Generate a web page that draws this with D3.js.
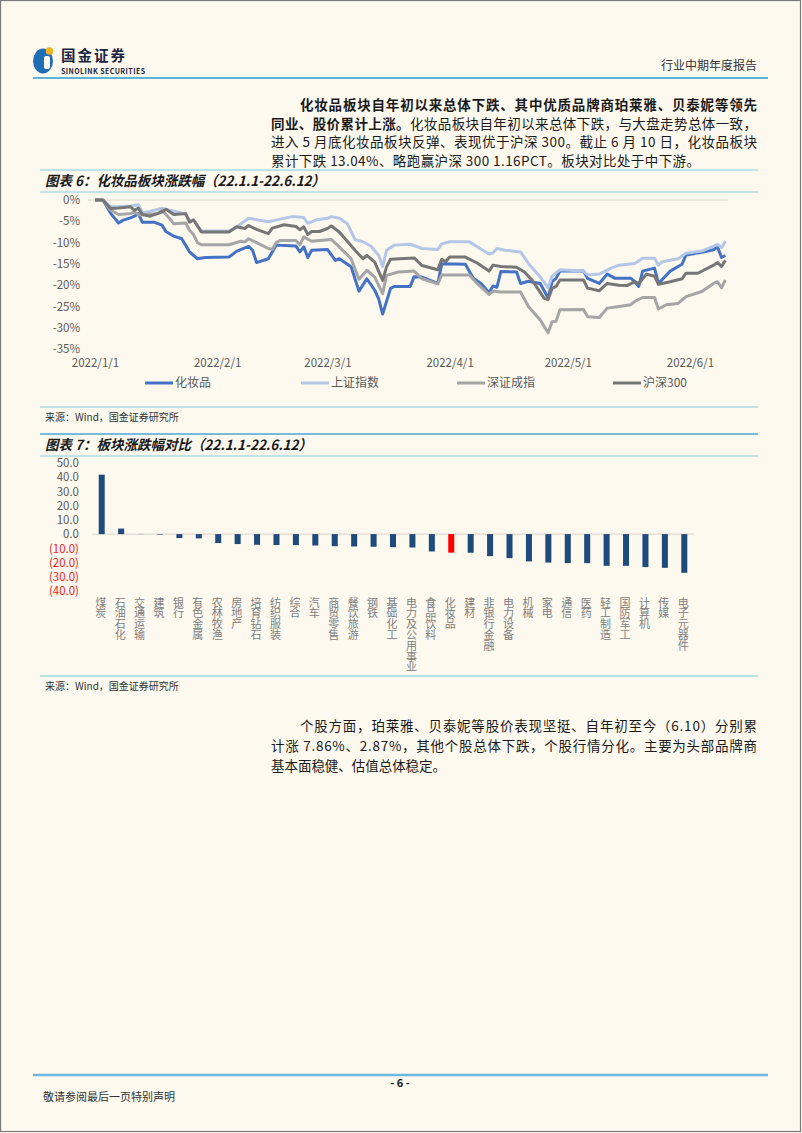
<!DOCTYPE html>
<html><head><meta charset="utf-8">
<script src="https://cdn.jsdelivr.net/npm/d3@7"></script>
<style>
body{margin:0;background:#fdf9ef;}
svg text{font-family:"Noto Sans CJK SC","Noto Sans",sans-serif;}
.vlab{writing-mode:vertical-rl;text-orientation:upright;}
</style>
</head><body>
<svg id="page" width="802" height="1133"></svg>
<script>
// ---------- DATA ----------
const seriesNames = ["化妆品","上证指数","深证成指","沪深300"];
const seriesColors = ["#4472c4","#b4c7e7","#a5a5a5","#767676"];
const dateTicks = ["2022-01-01","2022-02-01","2022-03-01","2022-04-01","2022-05-01","2022-06-01"];
const pctTicks = [0,-5,-10,-15,-20,-25,-30,-35];

const cosmetics = [["01-01",0],["01-03",0],["01-04",-1.6],["01-05",-3.2],["01-07",-5.4],["01-08",-4.8],["01-10",-4.2],["01-11",-3.8],["01-12",-3.2],["01-13",-5.2],["01-16",-5.2],["01-18",-5.9],["01-19",-7.4],["01-21",-8.5],["01-23",-9.1],["01-24",-10.6],["01-25",-12.2],["01-27",-13.8],["01-29",-13.5],["02-04",-13.4],["02-06",-12.0],["02-09",-10.9],["02-10",-11.8],["02-11",-14.7],["02-14",-13.8],["02-16",-10.6],["02-21",-10.8],["02-22",-12.2],["02-23",-11.0],["02-24",-13.5],["02-25",-11.8],["03-01",-11.6],["03-03",-14.2],["03-04",-13.8],["03-07",-15.7],["03-09",-21.4],["03-11",-18.5],["03-13",-21.2],["03-14",-23.2],["03-15",-26.8],["03-17",-20.8],["03-18",-20.3],["03-22",-20.3],["03-23",-18.0],["03-25",-18.1],["03-29",-19.6],["03-30",-15.0],["04-05",-15.1],["04-07",-18.4],["04-09",-19.6],["04-11",-21.8],["04-12",-20.2],["04-13",-20.5],["04-14",-16.8],["04-18",-16.9],["04-19",-19.6],["04-21",-19.1],["04-24",-19.6],["04-26",-23.0],["04-27",-19.2],["04-28",-18.4],["04-29",-16.7],["05-05",-16.7],["05-06",-18.4],["05-09",-19.6],["05-11",-17.4],["05-13",-18.4],["05-17",-18.4],["05-18",-19.2],["05-19",-20.3],["05-20",-16.7],["05-23",-16.0],["05-24",-19.6],["05-27",-16.7],["05-30",-15.1],["05-31",-12.9],["06-04",-12.3],["06-07",-11.7],["06-08",-11.0],["06-09",-13.5],["06-10",-13.04]];

const shIndex = [["01-01",0],["01-03",0],["01-05",-1.6],["01-08",-1.5],["01-10",-1.4],["01-12",-1.1],["01-13",-3.0],["01-15",-2.7],["01-18",-1.9],["01-20",-2.4],["01-24",-3.3],["01-25",-5.0],["01-26",-4.6],["01-28",-7.3],["02-04",-7.3],["02-06",-6.3],["02-09",-4.3],["02-14",-5.1],["02-17",-4.5],["02-20",-3.9],["02-23",-4.1],["02-24",-5.5],["02-26",-4.7],["03-01",-4.3],["03-02",-3.9],["03-04",-4.3],["03-06",-5.5],["03-07",-7.4],["03-08",-9.3],["03-10",-9.8],["03-12",-10.8],["03-14",-13.0],["03-15",-15.6],["03-16",-11.8],["03-18",-10.6],["03-22",-10.4],["03-25",-11.4],["03-29",-11.6],["03-30",-10.3],["04-01",-9.8],["04-06",-9.8],["04-08",-11.0],["04-11",-12.7],["04-12",-12.4],["04-13",-11.4],["04-15",-11.8],["04-19",-12.2],["04-21",-14.9],["04-24",-18.1],["04-26",-20.6],["04-27",-17.9],["04-29",-16.4],["05-05",-16.7],["05-06",-17.6],["05-09",-17.4],["05-12",-16.0],["05-14",-15.3],["05-18",-14.9],["05-20",-13.7],["05-23",-13.7],["05-24",-15.3],["05-25",-14.5],["05-29",-13.8],["05-31",-12.5],["06-04",-12.0],["06-08",-10.4],["06-09",-11.2],["06-10",-9.7]];

const szIndex = [["01-01",0],["01-03",0],["01-05",-2.4],["01-07",-3.4],["01-10",-3.2],["01-11",-2.8],["01-12",-3.5],["01-14",-3.4],["01-17",-3.2],["01-18",-2.4],["01-20",-4.4],["01-21",-5.6],["01-24",-5.4],["01-25",-7.1],["01-26",-8.1],["01-27",-10.0],["01-28",-10.5],["02-04",-10.5],["02-07",-9.7],["02-08",-9.9],["02-09",-9.1],["02-11",-10.0],["02-14",-11.4],["02-15",-11.6],["02-16",-10.0],["02-17",-9.5],["02-21",-9.5],["02-22",-10.5],["02-23",-8.7],["02-25",-9.7],["02-27",-9.5],["03-02",-9.3],["03-04",-11.0],["03-07",-13.8],["03-09",-18.6],["03-11",-16.5],["03-13",-18.1],["03-15",-22.0],["03-16",-17.7],["03-19",-16.9],["03-23",-16.7],["03-25",-18.5],["03-29",-19.7],["03-30",-17.6],["04-01",-17.6],["04-06",-17.6],["04-08",-19.6],["04-11",-22.2],["04-12",-21.4],["04-14",-21.6],["04-19",-21.6],["04-21",-25.0],["04-24",-28.2],["04-26",-31.2],["04-27",-28.6],["04-28",-28.5],["04-29",-25.8],["05-05",-25.7],["05-06",-27.4],["05-09",-27.6],["05-11",-25.4],["05-14",-25.0],["05-17",-24.6],["05-18",-23.8],["05-20",-22.9],["05-23",-22.9],["05-24",-25.6],["05-26",-24.6],["05-29",-24.3],["05-31",-22.7],["06-04",-21.5],["06-07",-19.6],["06-08",-19.2],["06-09",-20.6],["06-10",-18.8]];

const hs300 = [["01-01",0],["01-03",0],["01-05",-2.0],["01-07",-1.9],["01-10",-1.6],["01-11",-2.4],["01-12",-1.9],["01-13",-3.4],["01-15",-3.8],["01-18",-2.8],["01-19",-2.2],["01-21",-3.4],["01-24",-3.2],["01-25",-5.2],["01-26",-4.7],["01-28",-7.5],["02-04",-7.5],["02-06",-6.3],["02-08",-6.7],["02-09",-6.0],["02-11",-6.9],["02-14",-7.9],["02-15",-6.6],["02-18",-5.8],["02-21",-6.2],["02-22",-7.0],["02-23",-6.3],["02-24",-8.1],["02-25",-7.4],["02-27",-7.4],["03-01",-6.7],["03-02",-6.1],["03-04",-7.5],["03-08",-11.8],["03-10",-13.8],["03-11",-13.0],["03-13",-14.6],["03-15",-18.9],["03-16",-15.7],["03-17",-13.9],["03-23",-13.6],["03-25",-15.4],["03-29",-16.4],["03-30",-13.9],["03-31",-14.5],["04-01",-13.4],["04-05",-13.4],["04-08",-14.8],["04-11",-16.7],["04-12",-15.3],["04-14",-15.6],["04-18",-15.8],["04-20",-16.9],["04-22",-18.9],["04-25",-23.1],["04-26",-23.4],["04-27",-20.8],["04-28",-20.3],["04-29",-18.8],["05-05",-18.8],["05-06",-20.7],["05-09",-21.3],["05-11",-19.6],["05-14",-20.0],["05-16",-20.1],["05-18",-19.2],["05-19",-19.6],["05-21",-17.4],["05-23",-17.9],["05-24",-19.8],["05-27",-19.2],["05-30",-18.5],["05-31",-17.2],["06-03",-17.2],["06-07",-15.3],["06-08",-14.7],["06-09",-15.6],["06-10",-14.2]];

const sectors = ["煤炭","石油石化","交通运输","建筑","银行","有色金属","农林牧渔","房地产","培育钻石","纺织服装","综合","汽车","商贸零售","餐饮旅游","钢铁","基础化工","电力及公用事业","食品饮料","化妆品","建材","非银行金融","电力设备","机械","家电","通信","医药","轻工制造","国防军工","计算机","传媒","电子元器件"];
const sectorChange = [41.8,3.9,0.1,-0.4,-2.8,-3.0,-6.3,-7.0,-7.5,-7.7,-7.7,-8.0,-8.5,-8.7,-8.9,-9.2,-9.4,-12.2,-13.04,-13.1,-15.5,-16.9,-19.2,-20.0,-20.4,-20.4,-22.3,-22.3,-23.2,-23.7,-27.2];
const barTicks = [50,40,30,20,10,0,-10,-20,-30,-40];
const highlightSector = "化妆品";

// ---------- PAGE ----------
const svg = d3.select("#page");
svg.append("rect").attr("x",0).attr("y",0).attr("width",802).attr("height",1133).attr("fill","#fdf9ef");
svg.append("rect").attr("x",0.5).attr("y",0.5).attr("width",800).attr("height",1131).attr("fill","none").attr("stroke","#7a7a7a").attr("stroke-width",1.2);

// header logo
const logo = svg.append("g");
logo.append("ellipse").attr("cx",43).attr("cy",61).attr("rx",10).attr("ry",12.5).attr("fill","#1f6db5");
logo.append("rect").attr("x",44).attr("y",56).attr("width",6).attr("height",13).attr("rx",2).attr("fill","#fdf9ef");
logo.append("circle").attr("cx",49.5).attr("cy",51).attr("r",3.8).attr("fill","#f2b21f");
logo.append("text").attr("x",61).attr("y",61).attr("font-size",14.5).attr("font-weight",700).attr("fill","#1b2440").attr("textLength",64).attr("lengthAdjust","spacing").text("国金证券");
logo.append("text").attr("x",61).attr("y",74).attr("font-size",7).attr("font-weight",700).attr("fill","#1b2440").attr("textLength",84).text("SINOLINK SECURITIES");
svg.append("text").attr("x",757).attr("y",70).attr("text-anchor","end").attr("font-size",12).attr("fill","#333").text("行业中期年度报告");
svg.append("line").attr("x1",33).attr("x2",768).attr("y1",78).attr("y2",78).attr("stroke","#5cb3dc").attr("stroke-width",2);

// paragraph helper
function para(lines){
  lines.forEach(l=>{
    const t = svg.append("text").attr("x",l.x).attr("y",l.y).attr("font-size",13.5).attr("fill","#1a1a1a")
      .attr("textLength",l.w).attr("lengthAdjust","spacing");
    l.parts.forEach(p=>t.append("tspan").attr("font-weight",p[1]?700:400).text(p[0]));
  });
}
para([
  {x:300,y:110,w:457,parts:[["化妆品板块自年初以来总体下跌、其中优质品牌商珀莱雅、贝泰妮等领先",1]]},
  {x:271,y:128.5,w:486,parts:[["同业、股价累计上涨。",1],["化妆品板块自年初以来总体下跌，与大盘走势总体一致，",0]]},
  {x:271,y:147,w:486,parts:[["进入 5 月底化妆品板块反弹、表现优于沪深 300。截止 6 月 10 日，化妆品板块",0]]},
  {x:271,y:165.5,w:429,parts:[["累计下跌 13.04%、略跑赢沪深 300 1.16PCT。板块对比处于中下游。",0]]}
]);

// chart title helper
function titleBar(yTop,yBot,yText,label,w,thickTop){
  svg.append("line").attr("x1",40).attr("x2",758).attr("y1",yTop).attr("y2",yTop).attr("stroke",thickTop?"#4aa7d9":"#86cbe0").attr("stroke-width",thickTop?1.6:1);
  svg.append("line").attr("x1",40).attr("x2",758).attr("y1",yBot).attr("y2",yBot).attr("stroke","#86cbe0").attr("stroke-width",1);
  svg.append("text").attr("x",45).attr("y",yText).attr("font-size",14).attr("font-weight",700).attr("font-style","italic")
    .attr("fill","#1a1a1a").attr("textLength",w).attr("lengthAdjust","spacingAndGlyphs").text(label);
}
titleBar(170,192,186,"图表 6：化妆品板块涨跌幅（22.1.1-22.6.12）",280,false);

// ---------- CHART 6 ----------
const parse = d3.timeParse("%Y-%m-%d");
const xT = d3.scaleTime().domain([parse("2022-01-01"),parse("2022-06-12")]).range([95,733.3]);
const yP = d3.scaleLinear().domain([0,-35]).range([200,349]);

svg.append("line").attr("x1",88).attr("x2",728).attr("y1",yP(0)).attr("y2",yP(0)).attr("stroke","#dcd8cf").attr("stroke-width",1);

const gy = svg.append("g").attr("transform","translate(80,0)")
  .call(d3.axisLeft(yP).tickValues(pctTicks).tickSize(0).tickPadding(0).tickFormat(d=>d+"%"));
gy.select(".domain").remove();
gy.selectAll("text").attr("font-size",11.5).attr("fill","#595959").attr("font-family","'Noto Sans','Open Sans',sans-serif");

const gx = svg.append("g").attr("transform","translate(0,359)")
  .call(d3.axisBottom(xT).tickValues(dateTicks.map(parse)).tickSize(0).tickPadding(0).tickFormat(d3.timeFormat("%Y/%-m/%-d")));
gx.select(".domain").remove();
gx.selectAll("text").attr("font-size",11.5).attr("fill","#595959").attr("font-family","'Noto Sans','Open Sans',sans-serif");

const allSeries = [cosmetics, shIndex, szIndex, hs300];
const line = d3.line().x(d=>xT(parse("2022-"+d[0]))).y(d=>yP(d[1]));
allSeries.forEach((s,i)=>{
  svg.append("path").datum(s).attr("d",line).attr("fill","none").attr("stroke",seriesColors[i])
    .attr("stroke-width",3).attr("stroke-linejoin","round");
});

// legend
const lg = svg.append("g");
seriesNames.forEach((n,i)=>{
  const lx = 145 + i*156;
  lg.append("line").attr("x1",lx).attr("x2",lx+28).attr("y1",383).attr("y2",383).attr("stroke",seriesColors[i]).attr("stroke-width",3);
  lg.append("text").attr("x",lx+30).attr("y",383).attr("dy","0.36em").attr("font-size",12).attr("fill","#595959").text(n);
});

svg.append("line").attr("x1",40).attr("x2",758).attr("y1",407).attr("y2",407).attr("stroke","#86cbe0").attr("stroke-width",1);
svg.append("text").attr("x",45).attr("y",421).attr("font-size",10).attr("fill","#333").text("来源：Wind，国金证券研究所");

titleBar(434,456,450,"图表 7：板块涨跌幅对比（22.1.1-22.6.12）",267,true);

// ---------- CHART 7 ----------
const xB = d3.scaleBand().domain(sectors).range([92,694]).paddingInner(0.69).paddingOuter(0.345);
const yB = d3.scaleLinear().domain([-40,50]).range([591,463]);

const gyb = svg.append("g").attr("transform","translate(79,0)")
  .call(d3.axisLeft(yB).tickValues(barTicks).tickSize(0).tickPadding(0)
    .tickFormat(d=> d<0 ? "("+(-d).toFixed(1)+")" : d.toFixed(1)));
gyb.select(".domain").remove();
gyb.selectAll("text").attr("font-size",11.5).attr("font-family","'Noto Sans','Open Sans',sans-serif")
  .attr("fill",d=> d<0 ? "#ee1c1c" : "#595959");

svg.append("line").attr("x1",92).attr("x2",694).attr("y1",yB(0)).attr("y2",yB(0)).attr("stroke","#d6d3cb").attr("stroke-width",1);

svg.append("g").selectAll("rect").data(sectors).join("rect")
  .attr("x",d=>xB(d)).attr("width",xB.bandwidth())
  .attr("y",(d,i)=>yB(Math.max(0,sectorChange[i])))
  .attr("height",(d,i)=>Math.abs(yB(sectorChange[i])-yB(0)))
  .attr("fill",d=> d===highlightSector ? "#ff0000" : "#1f4a7c");

svg.append("g").selectAll("text").data(sectors).join("text")
  .attr("class","vlab")
  .attr("x",d=>xB(d)+xB.bandwidth()/2 - 1).attr("y",597)
  .attr("font-size",11).attr("letter-spacing","-0.2px").attr("fill","#7f7f7f")
  .text(d=>d);

svg.append("line").attr("x1",40).attr("x2",758).attr("y1",676).attr("y2",676).attr("stroke","#78cad8").attr("stroke-width",1);
svg.append("text").attr("x",45).attr("y",690).attr("font-size",10).attr("fill","#333").text("来源：Wind，国金证券研究所");

para([
  {x:300,y:731,w:457,parts:[["个股方面，珀莱雅、贝泰妮等股价表现坚挺、自年初至今（6.10）分别累",0]]},
  {x:271,y:751,w:486,parts:[["计涨 7.86%、2.87%，其他个股总体下跌，个股行情分化。主要为头部品牌商",0]]},
  {x:271,y:771,w:175,parts:[["基本面稳健、估值总体稳定。",0]]}
]);

// footer
svg.append("line").attr("x1",33).attr("x2",768).attr("y1",1075).attr("y2",1075).attr("stroke","#6cb8de").attr("stroke-width",2.5);
svg.append("text").attr("x",400).attr("y",1087).attr("text-anchor","middle").attr("font-size",11).attr("font-weight",700).attr("fill","#1a1a1a").text("- 6 -");
svg.append("text").attr("x",43).attr("y",1101).attr("font-size",11).attr("fill","#333").text("敬请参阅最后一页特别声明");
</script>
</body></html>
